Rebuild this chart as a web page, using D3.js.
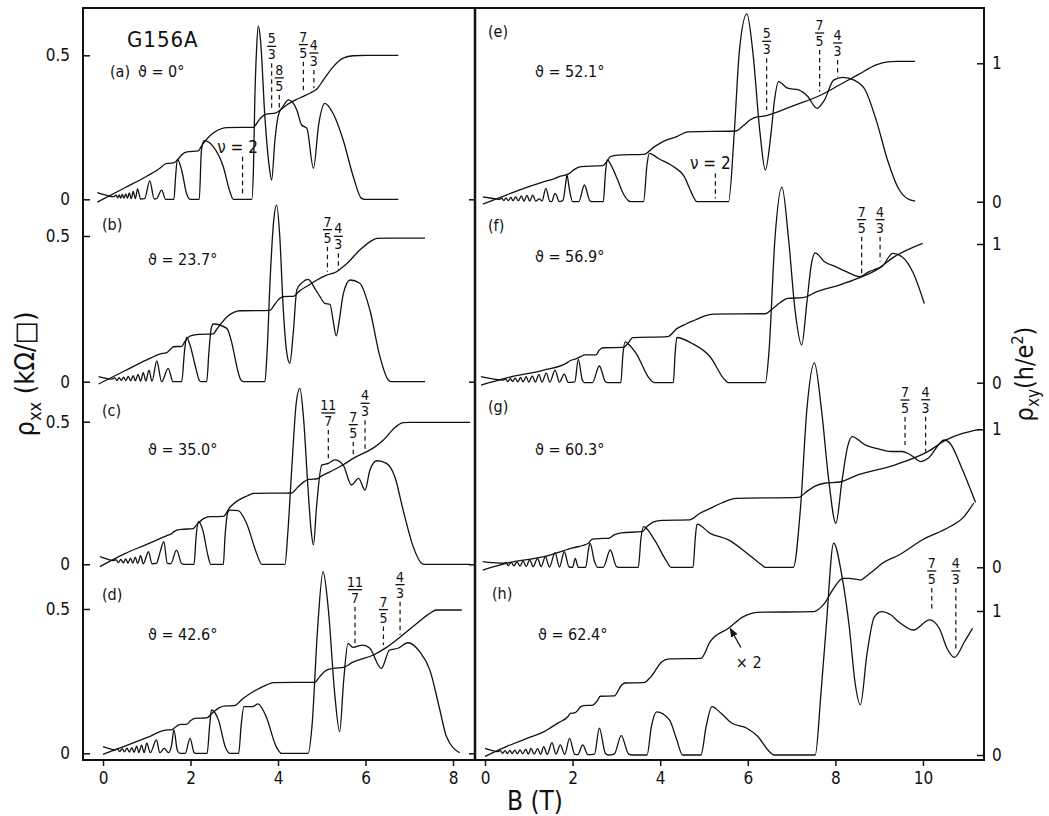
<!DOCTYPE html>
<html><head><meta charset="utf-8">
<script src="https://cdn.jsdelivr.net/npm/d3@7"></script>
<style>
body{margin:0;background:#fff;}
svg text{font-family:"Liberation Sans Narrow","DejaVu Sans Condensed","Liberation Sans","DejaVu Sans",sans-serif;fill:#111;}
</style></head><body>
<svg id="c" width="1049" height="816"></svg>
<script>
// ---------------- DATA ----------------
const panelKeys = ["a","b","c","d","e","f","g","h"];
const angles = ["0°","23.7°","35.0°","42.6°","52.1°","56.9°","60.3°","62.4°"];
const ticksLeftB = [0,2,4,6,8];
const ticksRightB = [0,2,4,6,8,10];
const ticksRxx = [0,0.5];
const ticksRxy = [0,1];

// rho_xx  [B (T), kOhm]   rho_xy [B (T), h/e^2]
const rxxA = [[-0.13,0.023],[0.05,0.015],[0.24,0.009],[0.3,0.014],[0.335,0.005],[0.37,0.015],[0.405,0.004],[0.44,0.017],[0.48,0.004],[0.52,0.019],[0.56,0.003],[0.6,0.022],[0.645,0.002],[0.69,0.027],[0.74,0.002],[0.79,0.036],[0.86,0.001],[0.95,0.002],[1.07,0.064],[1.17,0.001],[1.22,0.002],[1.34,0.032],[1.43,0],[1.62,0],[1.66,0.08],[1.7,0.139],[1.8,0.1],[1.91,0.02],[1.99,0],[2.2,0],[2.25,0.17],[2.31,0.204],[2.52,0.183],[2.75,0.113],[2.9,0.027],[2.98,0],[3.4,0],[3.44,0.113],[3.47,0.345],[3.51,0.52],[3.55,0.602],[3.6,0.553],[3.7,0.287],[3.8,0.113],[3.855,0.067],[3.93,0.206],[4.01,0.293],[4.12,0.324],[4.24,0.345],[4.43,0.31],[4.54,0.258],[4.66,0.246],[4.81,0.108],[4.93,0.26],[5.07,0.333],[5.26,0.298],[5.49,0.206],[5.72,0.079],[5.91,0.003],[5.98,0],[6.75,0]];
const rxyA = [[-0.13,-0.02],[0.5,0.08],[1.0,0.16],[1.3,0.215],[1.42,0.245],[1.5,0.25],[1.63,0.255],[1.72,0.28],[1.82,0.315],[1.92,0.33],[2.18,0.336],[2.25,0.37],[2.35,0.41],[2.52,0.46],[2.7,0.49],[2.83,0.498],[3.44,0.5],[3.52,0.53],[3.62,0.57],[3.72,0.59],[3.95,0.6],[4.05,0.62],[4.2,0.655],[4.4,0.69],[4.58,0.715],[4.75,0.74],[4.84,0.755],[4.9,0.77],[5.04,0.83],[5.26,0.92],[5.49,0.98],[5.72,0.997],[6.0,1.0],[6.75,1.0]];

const rxxB = [[-0.1,0.017],[0.2,0.009],[0.27,0.013],[0.32,0.004],[0.37,0.014],[0.42,0.004],[0.47,0.016],[0.52,0.004],[0.58,0.018],[0.63,0.003],[0.69,0.021],[0.74,0.003],[0.8,0.025],[0.86,0.002],[0.92,0.031],[0.98,0.002],[1.05,0.04],[1.12,0.001],[1.23,0.071],[1.34,0],[1.49,0.046],[1.6,0],[1.8,0],[1.86,0.1],[1.91,0.152],[1.98,0.13],[2.1,0.06],[2.2,0.005],[2.24,0],[2.37,0],[2.42,0.1],[2.47,0.18],[2.52,0.198],[2.83,0.183],[2.95,0.13],[3.06,0.051],[3.15,0.006],[3.21,0],[3.7,0],[3.75,0.1],[3.82,0.35],[3.9,0.55],[3.97,0.606],[4.04,0.5],[4.12,0.25],[4.2,0.1],[4.27,0.063],[4.35,0.17],[4.43,0.315],[4.55,0.34],[4.69,0.351],[4.85,0.318],[4.96,0.292],[5.07,0.269],[5.19,0.265],[5.26,0.21],[5.33,0.157],[5.41,0.22],[5.49,0.3],[5.65,0.349],[5.87,0.338],[6.1,0.246],[6.33,0.086],[6.52,0.006],[6.6,0],[7.36,0]];
const rxyB = [[-0.1,-0.016],[0.5,0.075],[1.0,0.15],[1.3,0.19],[1.46,0.2],[1.55,0.225],[1.61,0.24],[1.8,0.243],[1.87,0.275],[1.97,0.31],[2.1,0.322],[2.22,0.325],[2.52,0.328],[2.6,0.36],[2.7,0.4],[2.85,0.45],[3.0,0.478],[3.13,0.487],[3.82,0.49],[3.9,0.52],[4.0,0.56],[4.12,0.584],[4.35,0.586],[4.5,0.625],[4.69,0.66],[4.9,0.7],[5.11,0.732],[5.34,0.755],[5.45,0.78],[5.57,0.81],[5.87,0.904],[6.1,0.96],[6.26,0.984],[6.5,0.985],[7.36,0.985]];

const rxxC = [[-0.07,0.027],[0.1,0.018],[0.24,0.013],[0.3,0.016],[0.35,0.006],[0.41,0.017],[0.46,0.005],[0.52,0.019],[0.57,0.004],[0.63,0.022],[0.68,0.004],[0.74,0.025],[0.79,0.003],[0.86,0.03],[0.92,0.002],[1.04,0.044],[1.12,0.002],[1.22,0.003],[1.3,0.04],[1.39,0.079],[1.47,0.003],[1.55,0.002],[1.68,0.05],[1.8,0.002],[1.85,0],[2.08,0],[2.13,0.1],[2.18,0.15],[2.28,0.12],[2.4,0.03],[2.46,0],[2.75,0],[2.79,0.1],[2.86,0.185],[2.9,0.19],[3.09,0.188],[3.28,0.144],[3.51,0.039],[3.63,0],[4.16,0],[4.22,0.1],[4.32,0.35],[4.42,0.57],[4.5,0.617],[4.58,0.52],[4.68,0.28],[4.75,0.13],[4.81,0.068],[4.88,0.2],[5.0,0.348],[5.15,0.354],[5.3,0.366],[5.49,0.348],[5.68,0.278],[5.84,0.301],[5.99,0.26],[6.1,0.33],[6.26,0.363],[6.48,0.354],[6.67,0.307],[6.86,0.19],[7.09,0.062],[7.28,0.004],[7.35,0],[8.39,0]];
const rxyC = [[-0.07,-0.016],[0.5,0.075],[1.0,0.14],[1.3,0.18],[1.45,0.2],[1.57,0.215],[1.65,0.235],[1.8,0.245],[2.06,0.25],[2.15,0.28],[2.3,0.32],[2.45,0.334],[2.75,0.336],[2.9,0.4],[3.1,0.45],[3.29,0.479],[3.44,0.497],[4.31,0.5],[4.45,0.54],[4.6,0.58],[4.7,0.595],[4.9,0.6],[5.0,0.62],[5.27,0.661],[5.5,0.7],[5.72,0.743],[6.03,0.79],[6.2,0.82],[6.41,0.871],[6.65,0.953],[6.86,0.993],[7.0,0.995],[8.39,0.995]];

const rxxD = [[0,0.023],[0.15,0.016],[0.27,0.012],[0.33,0.015],[0.38,0.006],[0.44,0.016],[0.49,0.005],[0.55,0.018],[0.6,0.004],[0.66,0.02],[0.71,0.003],[0.77,0.025],[0.82,0.002],[0.88,0.028],[0.94,0.002],[1.0,0.035],[1.08,0.002],[1.22,0.046],[1.3,0.002],[1.4,0.017],[1.5,0.002],[1.57,0.03],[1.62,0.081],[1.7,0.01],[1.76,0],[1.88,0],[1.99,0.052],[2.08,0.003],[2.12,0],[2.38,0],[2.44,0.1],[2.48,0.15],[2.64,0.115],[2.8,0.02],[2.9,0],[3.1,0],[3.16,0.1],[3.22,0.162],[3.43,0.162],[3.54,0.171],[3.73,0.127],[3.96,0.023],[4.08,0],[4.69,0],[4.78,0.1],[4.9,0.42],[5.03,0.629],[5.15,0.5],[5.3,0.2],[5.41,0.075],[5.5,0.25],[5.6,0.381],[5.71,0.367],[5.94,0.375],[6.1,0.364],[6.36,0.294],[6.55,0.358],[6.74,0.364],[6.97,0.383],[7.24,0.352],[7.47,0.289],[7.7,0.15],[7.85,0.058],[8.15,0.002]];
const rxyD = [[0,-0.007],[0.5,0.05],[1.0,0.108],[1.46,0.162],[1.57,0.163],[1.65,0.18],[1.72,0.196],[1.8,0.2],[1.91,0.201],[2.0,0.225],[2.1,0.242],[2.37,0.245],[2.5,0.28],[2.65,0.315],[2.81,0.328],[3.0,0.33],[3.2,0.38],[3.45,0.43],[3.73,0.473],[3.89,0.49],[4.84,0.492],[4.95,0.53],[5.1,0.575],[5.26,0.589],[5.5,0.596],[5.7,0.63],[6.18,0.681],[6.48,0.734],[6.8,0.808],[7.17,0.9],[7.47,0.97],[7.62,0.993],[8.2,0.993]];

const rxxE = [[-0.05,0.017],[0.15,0.012],[0.33,0.008],[0.38,0.012],[0.43,0.004],[0.48,0.013],[0.53,0.004],[0.59,0.015],[0.64,0.003],[0.7,0.017],[0.76,0.003],[0.83,0.02],[0.89,0.002],[0.96,0.022],[1.02,0.002],[1.09,0.023],[1.16,0.002],[1.24,0.01],[1.3,0.002],[1.39,0.046],[1.48,0.001],[1.52,0],[1.6,0.029],[1.7,0],[1.78,0.005],[1.84,0.06],[1.87,0.093],[1.93,0.04],[2.0,0],[2.14,0],[2.27,0.058],[2.4,0.002],[2.48,0],[2.7,0],[2.75,0.1],[2.79,0.145],[2.9,0.12],[3.03,0.075],[3.15,0.03],[3.28,0.003],[3.33,0],[3.62,0],[3.7,0.13],[3.75,0.168],[3.96,0.15],[4.3,0.122],[4.55,0.087],[4.72,0.029],[4.84,0],[5.56,0],[5.69,0.237],[5.81,0.527],[5.98,0.652],[6.11,0.527],[6.28,0.237],[6.4,0.11],[6.53,0.237],[6.61,0.353],[6.7,0.417],[6.91,0.394],[7.16,0.388],[7.37,0.365],[7.58,0.324],[7.75,0.353],[7.96,0.422],[8.17,0.432],[8.43,0.422],[8.68,0.388],[8.93,0.284],[9.19,0.145],[9.44,0.046],[9.65,0.01],[9.82,0.002]];
const rxyE = [[-0.05,-0.017],[0.5,0.05],[0.92,0.1],[1.3,0.14],[1.6,0.169],[1.68,0.18],[1.93,0.205],[2.05,0.235],[2.19,0.253],[2.69,0.26],[2.78,0.29],[2.86,0.325],[3.03,0.337],[3.62,0.342],[3.87,0.398],[4.1,0.44],[4.38,0.47],[4.63,0.505],[5.73,0.511],[5.9,0.55],[6.05,0.59],[6.23,0.614],[6.4,0.62],[6.6,0.64],[6.99,0.687],[7.67,0.771],[8.09,0.843],[8.51,0.916],[8.93,0.988],[9.19,1.01],[9.4,1.014],[9.82,1.014]];

const rxxF = [[-0.09,0.021],[0.15,0.014],[0.42,0.009],[0.47,0.013],[0.52,0.004],[0.58,0.014],[0.63,0.004],[0.69,0.016],[0.75,0.003],[0.81,0.018],[0.87,0.003],[0.94,0.021],[1.0,0.002],[1.08,0.024],[1.15,0.002],[1.23,0.028],[1.3,0.002],[1.4,0.033],[1.48,0.002],[1.6,0.044],[1.7,0.002],[1.81,0.03],[1.9,0.001],[2.05,0.003],[2.13,0.081],[2.22,0.01],[2.27,0],[2.45,0],[2.61,0.058],[2.75,0.003],[2.8,0],[3.1,0],[3.15,0.1],[3.2,0.142],[3.3,0.13],[3.45,0.102],[3.75,0.015],[3.87,0],[4.3,0],[4.34,0.1],[4.38,0.157],[4.72,0.137],[5.14,0.09],[5.48,0.009],[5.56,0],[6.4,0],[6.48,0.1],[6.62,0.5],[6.78,0.679],[6.93,0.5],[7.08,0.25],[7.23,0.131],[7.35,0.28],[7.45,0.41],[7.54,0.451],[7.75,0.42],[8.0,0.403],[8.26,0.385],[8.55,0.368],[8.76,0.385],[8.93,0.395],[9.06,0.403],[9.31,0.449],[9.52,0.437],[9.78,0.38],[10.03,0.275]];
const rxyF = [[-0.09,-0.017],[0.5,0.035],[1.34,0.091],[1.85,0.139],[1.95,0.16],[2.1,0.175],[2.2,0.19],[2.27,0.2],[2.53,0.2],[2.61,0.235],[2.69,0.252],[3.16,0.254],[3.28,0.29],[3.37,0.325],[4.17,0.332],[4.38,0.39],[4.6,0.425],[4.8,0.452],[5.0,0.48],[5.22,0.495],[6.4,0.497],[6.55,0.53],[6.75,0.58],[6.91,0.608],[7.25,0.613],[7.58,0.656],[8.09,0.704],[8.51,0.752],[8.93,0.812],[9.35,0.909],[9.99,1.005]];

const rxxG = [[-0.05,0.02],[0.2,0.016],[0.42,0.014],[0.48,0.016],[0.53,0.006],[0.6,0.017],[0.66,0.005],[0.73,0.019],[0.8,0.004],[0.87,0.022],[0.94,0.003],[1.02,0.026],[1.1,0.002],[1.2,0.031],[1.28,0.002],[1.38,0.037],[1.47,0.001],[1.6,0.051],[1.7,0.001],[1.81,0.054],[1.92,0.001],[2.0,0],[2.06,0.031],[2.13,0],[2.3,0],[2.36,0.06],[2.4,0.083],[2.5,0.02],[2.57,0],[2.7,0],[2.86,0.06],[3.0,0.003],[3.05,0],[3.5,0],[3.56,0.1],[3.62,0.141],[3.87,0.095],[4.13,0.025],[4.25,0],[4.75,0],[4.8,0.1],[4.84,0.15],[5.14,0.118],[5.56,0.095],[5.98,0.049],[6.32,0.008],[6.4,0],[7.04,0],[7.2,0.2],[7.35,0.55],[7.52,0.71],[7.68,0.55],[7.85,0.3],[8.01,0.153],[8.15,0.3],[8.28,0.42],[8.38,0.454],[8.68,0.425],[8.93,0.413],[9.27,0.402],[9.52,0.402],[9.65,0.396],[9.78,0.384],[9.94,0.367],[10.11,0.378],[10.49,0.442],[10.62,0.43],[10.87,0.35],[11.2,0.225]];
const rxyG = [[-0.05,-0.02],[0.5,0.03],[1.34,0.077],[2.0,0.14],[2.36,0.174],[2.44,0.203],[2.6,0.208],[2.82,0.21],[2.95,0.235],[3.11,0.25],[3.58,0.258],[3.7,0.295],[3.85,0.33],[4.04,0.34],[4.67,0.343],[4.9,0.39],[5.1,0.42],[5.39,0.464],[5.73,0.5],[7.16,0.507],[7.35,0.55],[7.55,0.59],[7.75,0.609],[8.1,0.618],[8.51,0.669],[9.35,0.741],[10.11,0.838],[10.53,0.923],[10.9,0.97],[11.3,1.0]];

const rxxH = [[0,0.023],[0.15,0.016],[0.29,0.012],[0.35,0.015],[0.4,0.006],[0.46,0.015],[0.51,0.005],[0.57,0.016],[0.62,0.005],[0.68,0.017],[0.74,0.004],[0.8,0.018],[0.86,0.004],[0.93,0.02],[0.99,0.003],[1.05,0.023],[1.12,0.003],[1.2,0.022],[1.27,0.002],[1.34,0.029],[1.42,0.002],[1.53,0.043],[1.62,0.003],[1.72,0.035],[1.82,0.002],[1.93,0.058],[2.05,0.002],[2.12,0.001],[2.23,0.035],[2.35,0.001],[2.5,0.003],[2.61,0.093],[2.75,0.005],[2.82,0],[2.95,0.003],[3.11,0.067],[3.28,0.003],[3.37,0],[3.7,0],[3.8,0.1],[3.92,0.15],[4.21,0.122],[4.38,0.052],[4.51,0],[4.93,0],[5.05,0.1],[5.18,0.168],[5.39,0.145],[5.64,0.11],[5.98,0.093],[6.23,0.064],[6.49,0.012],[6.6,0],[7.54,0],[7.67,0.214],[7.79,0.445],[7.96,0.736],[8.15,0.62],[8.32,0.44],[8.45,0.25],[8.57,0.174],[8.72,0.35],[8.89,0.48],[9.06,0.498],[9.27,0.486],[9.44,0.463],[9.78,0.434],[10.15,0.469],[10.37,0.44],[10.55,0.37],[10.72,0.339],[10.95,0.394],[11.13,0.44]];
const rxyH = [[0,-0.01],[0.5,0.06],[1.0,0.12],[1.35,0.162],[1.5,0.19],[1.68,0.225],[1.89,0.266],[1.95,0.289],[2.06,0.294],[2.19,0.336],[2.25,0.343],[2.44,0.345],[2.57,0.38],[2.63,0.408],[2.95,0.41],[3.12,0.486],[3.2,0.5],[3.62,0.502],[3.79,0.544],[4.04,0.648],[4.21,0.667],[4.93,0.671],[5.14,0.787],[5.56,0.88],[5.9,0.961],[6.23,0.991],[7.5,0.995],[7.75,1.053],[7.96,1.157],[8.17,1.227],[8.31,1.227],[8.45,1.222],[8.58,1.215],[8.7,1.24],[8.84,1.273],[9.07,1.331],[9.45,1.389],[9.98,1.493],[10.6,1.583],[10.9,1.643],[11.16,1.75]];

// fractional filling annotations: [numerator, denominator, B, top (rho_xy units), bottom]
const fracA = [["5","3",3.855,0.944,0.62],["8","5",4.03,0.725,0.62],["7","5",4.58,0.956,0.759],["4","3",4.82,0.898,0.771]];
const fracB = [["7","5",5.13,0.927,0.755],["4","3",5.38,0.881,0.767]];
const fracC = [["11","7",5.15,0.942,0.743],["7","5",5.72,0.86,0.755],["4","3",5.99,1.01,0.80]];
const fracD = [["11","7",5.76,1.016,0.762],["7","5",6.41,0.878,0.751],["4","3",6.79,1.051,0.82]];
const fracE = [["5","3",6.43,1.036,0.663],["7","5",7.64,1.096,0.795],["4","3",8.05,1.024,0.904]];
const fracF = [["7","5",8.6,1.053,0.776],["4","3",9.02,1.053,0.873]];
const fracG = [["7","5",9.59,1.089,0.886],["4","3",10.06,1.091,0.838]];
const fracH = [["7","5",10.2,1.16,0.993],["4","3",10.75,1.16,0.736]];
// nu = 2 markers: [B, top, bottom]
const nuA = [[3.19,0.296,0.019]];
const nuE = [[5.26,0.205,0.024]];
// "x 2" arrow in (h): [B, rho_xy]
const arrowH = [5.59,0.885];

// ---------------- LAYOUT ----------------
const FONT = 17;
const frame = {l:83, r:984, t:8, b:760, mid:475};
const layout = {
  a:{col:0,y0:199.3,yU:55.3, lab:[110,77], ang:[138,77]},
  b:{col:0,y0:381.7,yU:236,  lab:[102,230], ang:[148,265]},
  c:{col:0,y0:564.3,yU:421.7,lab:[102,416], ang:[148,455]},
  d:{col:0,y0:753.3,yU:609,  lab:[102,600], ang:[148,640]},
  e:{col:1,y0:201.7,yU:63.3, lab:[488,37],  ang:[535,77]},
  f:{col:1,y0:382.7,yU:244,  lab:[488,231], ang:[535,262]},
  g:{col:1,y0:567.3,yU:429.3,lab:[488,412], ang:[535,455]},
  h:{col:1,y0:755,  yU:611,  lab:[492,599], ang:[538,640]}
};
const series = {
  a:[rxxA,rxyA,fracA,nuA], b:[rxxB,rxyB,fracB,[]], c:[rxxC,rxyC,fracC,[]], d:[rxxD,rxyD,fracD,[]],
  e:[rxxE,rxyE,fracE,nuE], f:[rxxF,rxyF,fracF,[]], g:[rxxG,rxyG,fracG,[]], h:[rxxH,rxyH,fracH,[]]
};

const svg = d3.select("#c");
const xL = d3.scaleLinear().domain([0,8]).range([103,453]);
const xR = d3.scaleLinear().domain([0,10]).range([485,923]);

// frame
svg.append("rect").attr("x",frame.l).attr("y",frame.t).attr("width",frame.r-frame.l).attr("height",frame.b-frame.t)
  .attr("fill","none").attr("stroke","#111").attr("stroke-width",2);
svg.append("line").attr("x1",frame.mid).attr("x2",frame.mid).attr("y1",frame.t).attr("y2",frame.b)
  .attr("stroke","#111").attr("stroke-width",2.5);

function styleAxis(g){
  g.select(".domain").remove();
  g.selectAll("line").attr("stroke","#111").attr("stroke-width",1.5);
  g.selectAll("text").attr("font-size",FONT).attr("font-family",null);
}

// x axes
svg.append("g").attr("transform",`translate(0,${frame.b})`)
  .call(d3.axisBottom(xL).tickValues(ticksLeftB).tickSize(6).tickPadding(6)).call(styleAxis);
svg.append("g").attr("transform",`translate(0,${frame.b})`)
  .call(d3.axisBottom(xR).tickValues(ticksRightB).tickSize(6).tickPadding(6)).call(styleAxis);

const lineGen = (x,y)=>d3.line().x(d=>x(d[0])).y(d=>y(d[1])).curve(d3.curveMonotoneX);

function fraction(g,x,yTop,num,den){
  g.append("text").attr("x",x).attr("y",yTop-20).attr("text-anchor","middle").attr("font-size",14).text(num);
  const w = (num.length>1||den.length>1)?7:4.5;
  g.append("line").attr("x1",x-w).attr("x2",x+w).attr("y1",yTop-17).attr("y2",yTop-17)
    .attr("stroke","#111").attr("stroke-width",1.3);
  g.append("text").attr("x",x).attr("y",yTop-4).attr("text-anchor","middle").attr("font-size",14).text(den);
}

panelKeys.forEach((k,i)=>{
  const L = layout[k];
  const [rxx,rxy,fr,nu] = series[k];
  const x = L.col===0 ? xL : xR;
  const yXX = d3.scaleLinear().domain([0,0.5]).range([L.y0, L.col===0 ? L.yU : L.y0-144]);
  const yXY = d3.scaleLinear().domain([0,1]).range([L.y0, L.yU]);
  const g = svg.append("g");

  g.append("path").datum(rxx).attr("d",lineGen(x,yXX)).attr("fill","none").attr("stroke","#111").attr("stroke-width",1.3);
  g.append("path").datum(rxy).attr("d",lineGen(x,yXY)).attr("fill","none").attr("stroke","#111").attr("stroke-width",1.3);

  // axes
  if(L.col===0){
    svg.append("g").attr("transform",`translate(${frame.l},0)`)
      .call(d3.axisLeft(yXX).tickValues(ticksRxx).tickSize(-7).tickPadding(13).tickFormat(d=>d===0?"0":"0.5"))
      .call(styleAxis);
    svg.append("g").attr("transform",`translate(${frame.mid},0)`)
      .call(d3.axisRight(yXX).tickValues([0]).tickSize(-6).tickFormat(""))
      .call(styleAxis);
  } else {
    svg.append("g").attr("transform",`translate(${frame.r},0)`)
      .call(d3.axisRight(yXY).tickValues(ticksRxy).tickSize(-7).tickPadding(8).tickFormat(d3.format("d")))
      .call(styleAxis);
  }

  // annotations
  fr.forEach(f=>{
    const xp = x(f[2]);
    const yT = yXY(f[3]), yB = yXY(f[4]);
    g.append("line").attr("x1",xp).attr("x2",xp).attr("y1",yT).attr("y2",yB)
      .attr("stroke","#111").attr("stroke-width",1.2).attr("stroke-dasharray","4.5,3.5");
    fraction(g,xp,yT,f[0],f[1]);
  });
  nu.forEach(n=>{
    const xp = x(n[0]);
    const yT = yXY(n[1]), yB = yXY(n[2]);
    g.append("line").attr("x1",xp).attr("x2",xp).attr("y1",yT).attr("y2",yB)
      .attr("stroke","#111").attr("stroke-width",1.2).attr("stroke-dasharray","4.5,3.5");
    g.append("text").attr("x",xp-5).attr("y",yT-4).attr("text-anchor","middle").attr("font-size",17).text("ν = 2");
  });

  // labels
  g.append("text").attr("x",L.lab[0]).attr("y",L.lab[1]).attr("font-size",16).text(`(${k})`);
  g.append("text").attr("x",L.ang[0]).attr("y",L.ang[1]).attr("font-size",16).text(`ϑ = ${angles[i]}`);

  if(k==="h"){
    const tx = x(arrowH[0]), ty = yXY(arrowH[1]);
    svg.append("defs").append("marker").attr("id","ah").attr("viewBox","0 0 10 10").attr("refX",9).attr("refY",5)
      .attr("markerWidth",7).attr("markerHeight",7).attr("orient","auto")
      .append("path").attr("d","M0,1 L10,5 L0,9 Z").attr("fill","#111");
    g.append("line").attr("x1",tx+11).attr("y1",ty+20).attr("x2",tx+0.5).attr("y2",ty+1)
      .attr("stroke","#111").attr("stroke-width",1.3).attr("marker-end","url(#ah)");
    g.append("text").attr("x",tx+6).attr("y",ty+40).attr("font-size",16).text("× 2");
  }
});

// title & axis titles
svg.append("text").attr("x",127).attr("y",47).attr("font-size",22).attr("letter-spacing",1).text("G156A");

const yl = svg.append("text").attr("transform","translate(34,374) rotate(-90)").attr("text-anchor","middle").attr("font-size",27);
yl.append("tspan").text("ρ");
yl.append("tspan").attr("font-size",18).attr("dy",7).text("xx");
yl.append("tspan").attr("dy",-7).text(" (kΩ/□)");

const yr = svg.append("text").attr("transform","translate(1033,374) rotate(-90)").attr("text-anchor","middle").attr("font-size",25);
yr.append("tspan").text("ρ");
yr.append("tspan").attr("font-size",17).attr("dy",6).text("xy");
yr.append("tspan").attr("dy",-6).text("(h/e");
yr.append("tspan").attr("font-size",16).attr("dy",-10).text("2");
yr.append("tspan").attr("dy",10).text(")");

svg.append("text").attr("x",535).attr("y",810).attr("text-anchor","middle").attr("font-size",26).text("B (T)");
</script>
</body></html>
